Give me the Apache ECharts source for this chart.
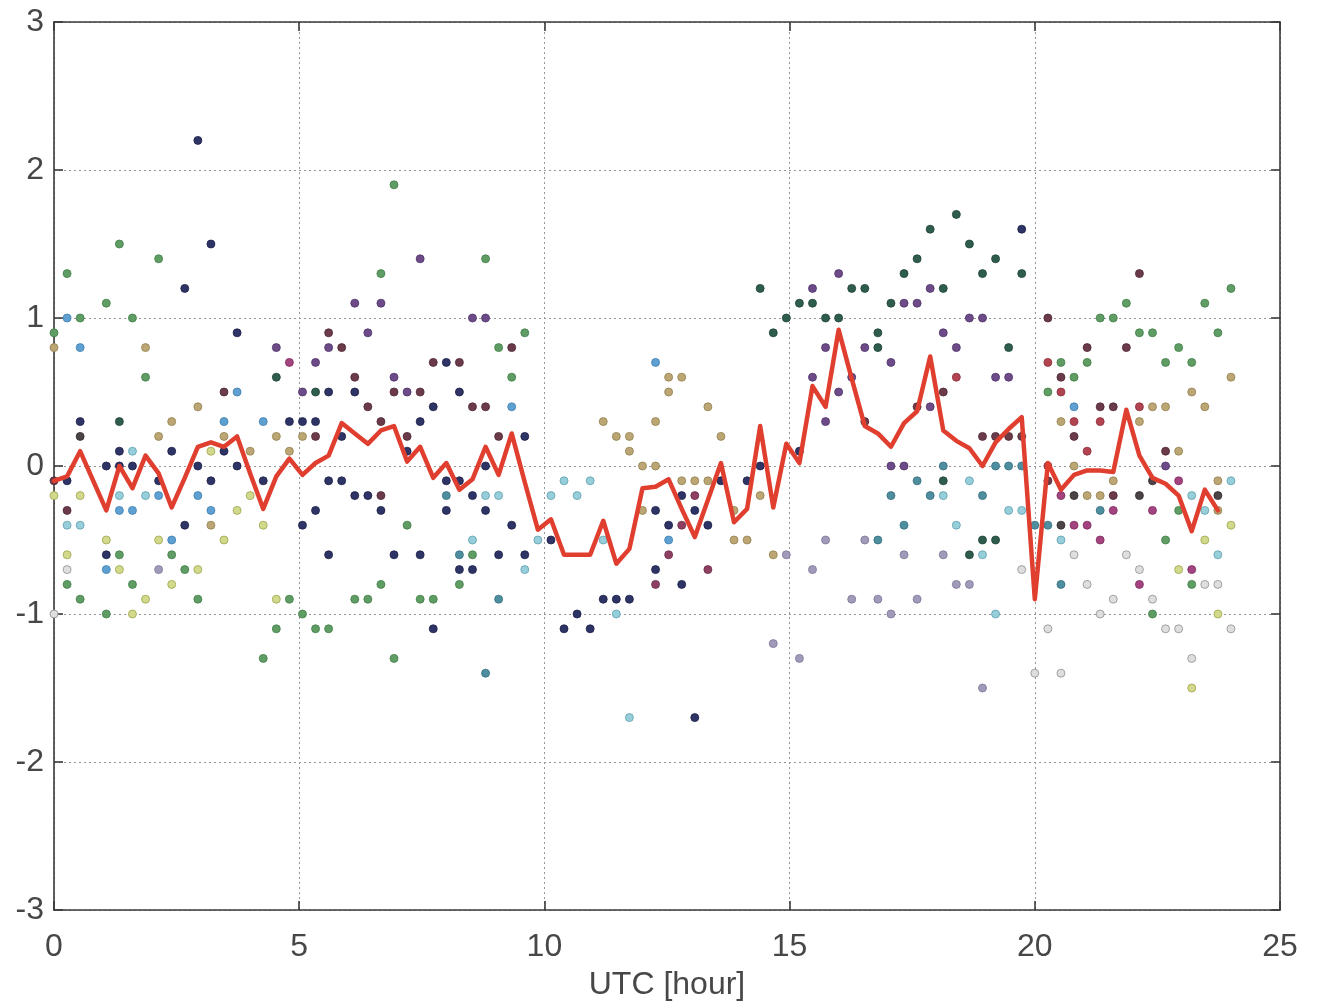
<!DOCTYPE html>
<html>
<head>
<meta charset="utf-8">
<title>UTC [hour]</title>
<script src="https://cdn.jsdelivr.net/npm/echarts@6/dist/echarts.min.js"></script>
<style>
  html, body { margin: 0; padding: 0; background: #ffffff; }
  #chart { width: 1319px; height: 1006px; }
</style>
</head>
<body>
<div id="chart"></div>
<script>
// Samples are taken every 16 minutes (slot 0 = 00:00 UTC, slot 90 = 24:00 UTC).
const SLOT_MINUTES = 16;

// Axis ticks
const xTickValues = [0, 5, 10, 15, 20, 25];
const yTickValues = [-3, -2, -1, 0, 1, 2, 3];

// Individual observations per group: [slot, value]
const navyPts = [
  [1,-0.1],[2,0.3],[4,0.0],[4,-0.6],[5,0.1],[5,0.0],[6,0.0],[8,-0.1],[9,0.1],[10,1.2],[10,-0.4],
  [11,2.2],[11,0.0],[12,1.5],[12,-0.1],[13,0.1],[14,0.9],[14,0.0],[16,-0.1],[18,0.3],
  [19,0.3],[19,-0.4],[20,0.3],[20,-0.3],[21,0.5],[21,-0.1],[21,-0.6],[22,0.2],[22,-0.1],
  [23,0.5],[23,-0.2],[24,-0.2],[25,-0.3],[26,-0.6],[27,0.1],[28,0.3],[28,-0.6],[29,0.4],[29,-1.1],
  [30,0.7],[30,-0.1],[30,-0.3],[31,0.5],[31,-0.1],[31,-0.7],[32,-0.2],[32,-0.7],[33,0.0],[33,-0.3],
  [34,-0.6],[35,-0.4],[36,0.2],[36,-0.6],[38,-0.5],[39,-1.1],[40,-1.0],[41,-1.1],[42,-0.9],
  [43,-0.9],[44,-0.9],[46,-0.3],[46,-0.7],[47,-0.4],[48,-0.2],[48,-0.8],[49,-0.3],[49,-1.7],
  [50,-0.4],[51,-0.1],[53,-0.1],[54,0.0],[57,0.1],[74,1.6]
];
const darkGreenPts = [
  [5,0.3],[17,0.6],[20,0.5],[54,1.2],[55,0.9],[56,1.0],[57,1.1],[58,1.1],[59,1.0],[60,1.0],
  [61,1.2],[62,1.2],[63,0.9],[63,0.8],[64,1.1],[65,1.3],[66,1.4],[67,1.6],[68,1.2],[68,-0.1],
  [69,1.7],[70,1.5],[70,-0.6],[71,1.3],[71,-0.5],[72,1.4],[72,-0.5],[73,0.8],[74,1.3]
];
const greenPts = [
  [0,0.9],[1,1.3],[1,-0.8],[2,1.0],[2,-0.9],[4,1.1],[4,-1.0],[5,1.5],[5,-0.6],[6,1.0],[6,-0.8],
  [7,0.6],[8,1.4],[9,-0.6],[10,-0.7],[11,-0.9],[16,-1.3],[17,-1.1],[18,-0.9],
  [19,-1.0],[20,-1.1],[21,-1.1],[23,-0.9],[24,-0.9],[25,1.3],[25,-0.8],[26,1.9],[26,-1.3],
  [27,-0.4],[28,-0.9],[29,-0.9],[31,-0.8],[32,-0.6],[33,1.4],[34,0.8],[35,0.6],[36,0.9],
  [76,0.5],[77,0.7],[78,0.6],[79,0.7],[80,1.0],[81,1.0],[82,1.1],[83,0.9],[84,0.9],[84,-1.0],
  [85,0.7],[85,-0.5],[86,0.8],[86,-0.3],[87,0.7],[87,-0.8],[88,1.1],[89,0.9],[90,1.2]
];
const yellowGreenPts = [
  [0,-0.2],[1,-0.6],[2,-0.2],[4,-0.5],[5,-0.7],[6,-1.0],[7,-0.9],[8,-0.5],[9,-0.8],[11,-0.7],
  [12,0.1],[13,-0.5],[14,-0.3],[15,-0.2],[16,-0.4],[17,-0.9],
  [86,-0.7],[87,-1.5],[88,-0.5],[89,-1.0],[90,-0.4]
];
const bluePts = [
  [1,1.0],[2,0.8],[4,-0.7],[5,-0.3],[6,-0.3],[8,-0.2],[9,-0.5],[11,-0.2],[12,-0.3],
  [13,0.3],[14,0.5],[16,0.3],[35,0.4],[46,0.7],[47,-0.5],[78,0.4]
];
const lightTealPts = [
  [1,-0.4],[2,-0.4],[5,-0.2],[6,0.1],[7,-0.2],[32,-0.5],[33,-0.2],[34,-0.2],[36,-0.7],[37,-0.5],
  [38,-0.2],[39,-0.1],[40,-0.2],[41,-0.1],[42,-0.5],[43,-1.0],[44,-1.7],
  [68,-0.2],[69,-0.4],[70,-0.1],[71,-0.6],[72,-1.0],[73,-0.3],[74,-0.3],
  [77,-0.5],[87,-0.2],[88,-0.3],[89,-0.6],[90,-0.1]
];
const tealPts = [
  [30,-0.2],[31,-0.6],[33,-1.4],[34,-0.9],[63,-0.5],[64,-0.2],[65,-0.4],[66,-0.1],[67,-0.2],
  [68,0.0],[71,-0.2],[72,0.0],[73,0.0],[74,0.0],[75,-0.4],[76,-0.4],[77,-0.8],[80,-0.3]
];
const purplePts = [
  [17,0.8],[19,0.5],[20,0.7],[21,0.8],[23,1.1],[24,0.9],[25,1.1],[26,0.6],[27,0.5],[28,1.4],
  [32,1.0],[33,1.0],[58,1.2],[58,0.6],[59,0.8],[59,0.3],[60,1.3],[60,0.5],[61,0.6],[62,0.8],
  [64,0.7],[64,0.0],[65,1.1],[65,0.0],[66,1.1],[67,1.2],[67,0.4],[68,0.9],[69,0.8],[70,1.0],
  [71,1.0],[72,0.6],[73,0.6],[85,0.0]
];
const magentaPts = [
  [18,0.7],[77,-0.2],[78,-0.4],[79,-0.4],[80,-0.5],[81,-0.3],[83,-0.8],[84,-0.3],[86,-0.1],[87,-0.7]
];
const maroonPts = [
  [0,-0.1],[1,-0.3],[13,0.5],[20,0.2],[21,0.9],[22,0.8],[23,0.6],[24,0.4],[25,0.3],[25,-0.2],
  [26,0.5],[27,0.2],[28,0.5],[29,0.7],[31,0.7],[32,0.4],[33,0.4],[34,0.2],[35,0.8],
  [62,0.3],[66,0.4],[68,0.5],[71,0.2],[72,0.2],[73,0.2],[74,0.2],
  [76,1.0],[76,-0.1],[77,0.6],[78,0.2],[79,0.8],[80,0.4],[81,0.4],[81,-0.2],[82,0.8],[83,1.3],[85,0.1]
];
const rosePts = [
  [46,-0.8],[47,-0.6],[48,-0.4],[49,-0.2],[50,-0.7]
];
const redPts = [
  [69,0.6],[76,0.7],[76,0.0],[77,0.5],[78,0.3],[79,0.1],[80,0.3],[83,0.4]
];
const tanPts = [
  [0,0.8],[7,0.8],[8,0.2],[9,0.3],[11,0.4],[12,-0.4],[13,0.2],[15,0.1],[17,0.2],[18,0.1],[19,0.2],
  [42,0.3],[43,0.2],[44,0.2],[44,0.1],[45,0.0],[45,-0.3],[46,0.3],[46,0.0],[47,0.6],[47,0.5],
  [48,0.6],[48,-0.1],[49,-0.1],[50,0.4],[50,-0.1],[51,0.2],[52,-0.3],[52,-0.5],[53,-0.5],
  [54,-0.2],[55,-0.6],[77,0.3],[78,0.0],[79,-0.2],[80,-0.2],[81,-0.1],[83,0.3],[84,0.4],
  [85,0.4],[86,0.1],[87,0.5],[88,0.4],[89,-0.1],[89,-0.3],[90,0.6]
];
const lavenderPts = [
  [8,-0.7],[55,-1.2],[56,-0.6],[57,-1.3],[58,-0.7],[59,-0.5],[61,-0.9],[62,-0.5],[63,-0.9],
  [64,-1.0],[65,-0.6],[66,-0.9],[68,-0.6],[69,-0.8],[70,-0.8],[71,-1.5]
];
const grayPts = [
  [0,-1.0],[1,-0.7],[74,-0.7],[75,-1.4],[76,-1.1],[77,-1.4],[78,-0.6],[79,-0.8],[80,-1.0],
  [81,-0.9],[82,-0.6],[83,-0.7],[84,-0.9],[85,-1.1],[86,-1.1],[87,-1.3],[88,-0.8],[89,-0.8],[90,-1.1]
];
const darkPts = [
  [2,0.2],[77,-0.4],[78,-0.2],[83,-0.2],[84,-0.1],[89,-0.2]
];

// Mean curve, one value per slot (slots 0..89)
const meanValues = [
  -0.10,-0.07, 0.10,-0.10,-0.30, 0.00,-0.15, 0.07,-0.05,-0.28,
  -0.08, 0.13, 0.16, 0.13, 0.20,-0.05,-0.29,-0.07, 0.05,-0.06,
   0.02, 0.07, 0.29, 0.22, 0.15, 0.24, 0.27, 0.03, 0.13,-0.08,
   0.02,-0.16,-0.09, 0.13,-0.06, 0.22,-0.11,-0.43,-0.36,-0.60,
  -0.60,-0.60,-0.37,-0.66,-0.56,-0.15,-0.14,-0.09,-0.29,-0.48,
  -0.23, 0.02,-0.38,-0.29, 0.27,-0.28, 0.15, 0.02, 0.54, 0.40,
   0.92, 0.59, 0.27, 0.22, 0.13, 0.29, 0.37, 0.74, 0.24, 0.17,
   0.12, 0.00, 0.16, 0.25, 0.33,-0.90, 0.02,-0.16,-0.06,-0.03,
  -0.03,-0.04, 0.38, 0.07,-0.08,-0.12,-0.20,-0.44,-0.16,-0.30
];

// Marker styles for each group
const groups = [
  { pts: grayPts,        fill: '#dedede', edge: '#8f8f8f' },
  { pts: lavenderPts,    fill: '#a19ab9', edge: '#7d7599' },
  { pts: yellowGreenPts, fill: '#d3d98b', edge: '#9aa54e' },
  { pts: lightTealPts,   fill: '#96ced9', edge: '#5f9fae' },
  { pts: tanPts,         fill: '#bba674', edge: '#93804f' },
  { pts: bluePts,        fill: '#5fa0d2', edge: '#3f7fae' },
  { pts: tealPts,        fill: '#4f8e9f', edge: '#356f80' },
  { pts: greenPts,       fill: '#5f9d64', edge: '#417d47' },
  { pts: darkGreenPts,   fill: '#2f5d4d', edge: '#1f4236' },
  { pts: purplePts,      fill: '#6d4b88', edge: '#4f3268' },
  { pts: magentaPts,     fill: '#a3437f', edge: '#7f2c5f' },
  { pts: rosePts,        fill: '#8f4062', edge: '#6b2a47' },
  { pts: maroonPts,      fill: '#6c3b4a', edge: '#4d2632' },
  { pts: redPts,         fill: '#b24452', edge: '#8a2e3a' },
  { pts: darkPts,        fill: '#4b4345', edge: '#322c2d' },
  { pts: navyPts,        fill: '#2e3465', edge: '#1c2048' }
];

const slotToHour = s => s * SLOT_MINUTES / 60;

const scatterSeries = groups.map(g => ({
  type: 'scatter',
  xAxisIndex: 0,
  yAxisIndex: 0,
  symbol: 'circle',
  symbolSize: 8,
  silent: true,
  itemStyle: { color: g.fill, borderColor: g.edge, borderWidth: 0.8, opacity: 1 },
  data: g.pts.map(p => [slotToHour(p[0]), p[1]]),
  z: 2
}));

const lineSeries = {
  type: 'line',
  xAxisIndex: 0,
  yAxisIndex: 0,
  showSymbol: false,
  symbol: 'none',
  silent: true,
  lineStyle: { color: '#e03e2f', width: 4.5, join: 'round', cap: 'round' },
  data: meanValues.map((v, i) => [slotToHour(i), v]),
  z: 5
};

const labelFont = {
  color: '#474747',
  fontFamily: 'Liberation Sans Narrow, Liberation Sans, Arial, sans-serif',
  fontSize: 32
};
const frameLine = { show: true, onZero: false, lineStyle: { color: '#3a3a3a', width: 1.6 } };
const innerTicks = { show: true, inside: true, length: 9, lineStyle: { color: '#3a3a3a', width: 1.6 } };
const dottedGrid = { show: true, lineStyle: { color: '#959595', width: 1, type: [2, 3] } };

const xMin = xTickValues[0], xMax = xTickValues[xTickValues.length - 1];
const yMin = yTickValues[0], yMax = yTickValues[yTickValues.length - 1];

const option = {
  backgroundColor: '#ffffff',
  animation: false,
  grid: { left: 54, right: 39, top: 22, bottom: 94, containLabel: false },
  xAxis: [
    {
      type: 'value', position: 'bottom', min: xMin, max: xMax, interval: 5,
      axisLine: frameLine, axisTick: innerTicks, splitLine: dottedGrid,
      axisLabel: Object.assign({ margin: 21 }, labelFont),
      name: 'UTC [hour]', nameLocation: 'middle', nameGap: 59,
      nameTextStyle: labelFont
    },
    {
      type: 'value', position: 'top', min: xMin, max: xMax, interval: 5,
      axisLine: frameLine, axisTick: innerTicks, splitLine: { show: false },
      axisLabel: { show: false }
    }
  ],
  yAxis: [
    {
      type: 'value', position: 'left', min: yMin, max: yMax, interval: 1,
      axisLine: frameLine, axisTick: innerTicks, splitLine: dottedGrid,
      axisLabel: Object.assign({ margin: 10 }, labelFont)
    },
    {
      type: 'value', position: 'right', min: yMin, max: yMax, interval: 1,
      axisLine: frameLine, axisTick: innerTicks, splitLine: { show: false },
      axisLabel: { show: false }
    }
  ],
  series: scatterSeries.concat([lineSeries])
};

const chart = echarts.init(document.getElementById('chart'), null, { renderer: 'canvas' });
chart.setOption(option);
</script>
</body>
</html>
